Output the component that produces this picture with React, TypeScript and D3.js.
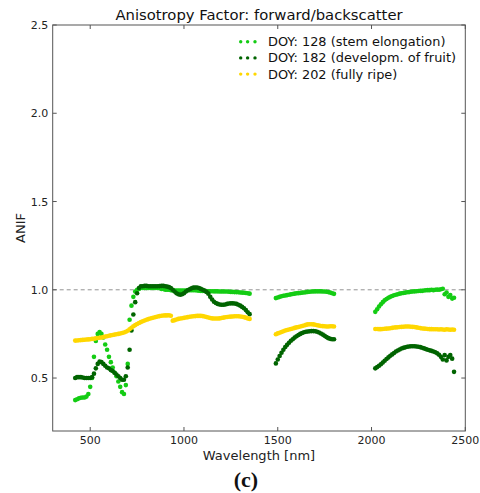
import React from 'react';
import * as d3 from 'd3';

// wavelength grids of the three measured windows (nm)
const wlVis = d3.range(420, 1351, 10);
const wlSwir1 = d3.range(1490, 1801, 10);
const wlSwir2 = d3.range(2020, 2441, 10);
const wavelengths = [...wlVis, ...wlSwir1, ...wlSwir2];

const doy128 = [
  // 420 - 760
  0.375, 0.38, 0.385, 0.388, 0.39, 0.39, 0.395, 0.41, 0.45, 0.50,
  0.62, 0.71, 0.75, 0.76, 0.75, 0.73, 0.69, 0.66, 0.62, 0.59,
  0.56, 0.53, 0.51, 0.48, 0.45, 0.42, 0.41, 0.46, 0.58, 0.83,
  0.91, 0.96, 0.99, 1.0, 1.005,
  // 770 - 1350
  1.01, 1.01, 1.01, 1.01, 1.01, 1.01, 1.01, 1.01, 1.01, 1.01,
  1.01, 1.005, 1.005, 1.0, 1.0, 1.0, 0.998, 0.996, 0.995, 0.995,
  0.995, 0.995, 0.995, 0.995, 0.996, 0.997, 0.998, 0.998, 0.998, 0.997,
  0.996, 0.995, 0.994, 0.993, 0.993, 0.992, 0.992, 0.992, 0.992, 0.991,
  0.991, 0.991, 0.99, 0.99, 0.99, 0.99, 0.99, 0.989, 0.988, 0.988,
  0.987, 0.987, 0.986, 0.985, 0.984, 0.983, 0.982, 0.98, 0.978,
  // 1490 - 1800
  0.953, 0.956, 0.96, 0.963, 0.966, 0.968, 0.97, 0.972, 0.974, 0.976,
  0.978, 0.98, 0.981, 0.982, 0.984, 0.985, 0.986, 0.988, 0.989, 0.99,
  0.99, 0.991, 0.991, 0.991, 0.991, 0.99, 0.99, 0.989, 0.987, 0.984,
  0.98, 0.977,
  // 2020 - 2440
  0.875, 0.89, 0.905, 0.918, 0.93, 0.94, 0.948, 0.955, 0.96, 0.965,
  0.969, 0.972, 0.975, 0.978, 0.98, 0.982, 0.984, 0.986, 0.987, 0.989,
  0.99, 0.991, 0.992, 0.993, 0.994, 0.994, 0.996, 0.997, 0.998, 0.998,
  1.0, 0.998, 1.0, 1.001, 1.0, 1.003, 1.006, 0.975, 0.985, 0.96,
  0.97, 0.95, 0.955,
];

const doy182 = [
  // 420 - 1350
  0.50, 0.505, 0.505, 0.505, 0.503, 0.50, 0.50, 0.50, 0.50, 0.505,
  0.525, 0.555, 0.58, 0.593, 0.59, 0.58, 0.57, 0.56, 0.555, 0.545,
  0.54, 0.53, 0.52, 0.51, 0.50, 0.49, 0.49, 0.51, 0.56, 0.66,
  0.77, 0.86, 0.93, 0.98, 1.01, 1.02, 1.02, 1.022, 1.022, 1.02,
  1.02, 1.02, 1.02, 1.02, 1.02, 1.021, 1.022, 1.022, 1.02, 1.018,
  1.015, 1.01, 1.0, 0.99, 0.98, 0.975, 0.972, 0.975, 0.98, 0.99,
  0.997, 1.003, 1.008, 1.012, 1.013, 1.013, 1.01, 1.005, 1.0, 0.995,
  0.988, 0.978, 0.96, 0.945, 0.932, 0.925, 0.92, 0.917, 0.915, 0.915,
  0.917, 0.92, 0.922, 0.923, 0.923, 0.922, 0.92, 0.915, 0.91, 0.903,
  0.895, 0.885, 0.873, 0.862,
  // 1490 - 1800
  0.583, 0.605, 0.625, 0.643, 0.66, 0.676, 0.688, 0.70, 0.711, 0.72,
  0.729, 0.737, 0.744, 0.75, 0.755, 0.759, 0.762, 0.764, 0.765, 0.766,
  0.766, 0.765, 0.762, 0.758, 0.752, 0.746, 0.739, 0.732, 0.726, 0.722,
  0.72, 0.72,
  // 2020 - 2440
  0.555, 0.562, 0.57, 0.578, 0.588, 0.598, 0.608, 0.617, 0.626, 0.634,
  0.642, 0.65, 0.656, 0.662, 0.667, 0.671, 0.674, 0.677, 0.679, 0.68,
  0.68, 0.68, 0.679, 0.677, 0.675, 0.672, 0.668, 0.664, 0.66, 0.657,
  0.654, 0.65, 0.646, 0.64, 0.632, 0.62, 0.605, 0.63, 0.6, 0.62,
  0.63, 0.61, 0.535,
];

const doy202 = [
  // 420 - 1350
  0.712, 0.713, 0.714, 0.715, 0.716, 0.717, 0.718, 0.719, 0.72, 0.722,
  0.723, 0.725, 0.727, 0.728, 0.73, 0.732, 0.735, 0.737, 0.74, 0.742,
  0.744, 0.746, 0.748, 0.75, 0.752, 0.755, 0.758, 0.762, 0.768, 0.776,
  0.785, 0.793, 0.80, 0.806, 0.812, 0.817, 0.822, 0.826, 0.83, 0.834,
  0.837, 0.84, 0.843, 0.846, 0.849, 0.851, 0.853, 0.854, 0.855, 0.855,
  0.856, 0.853, 0.825, 0.828, 0.832, 0.835, 0.837, 0.839, 0.841, 0.843,
  0.845, 0.847, 0.849, 0.85, 0.851, 0.852, 0.852, 0.852, 0.851, 0.849,
  0.846, 0.843, 0.84, 0.838, 0.837, 0.837, 0.837, 0.838, 0.84, 0.842,
  0.844, 0.846, 0.847, 0.848, 0.849, 0.85, 0.85, 0.85, 0.849, 0.847,
  0.845, 0.842, 0.838, 0.835,
  // 1490 - 1800
  0.748, 0.753, 0.757, 0.761, 0.765, 0.769, 0.772, 0.775, 0.778, 0.781,
  0.784, 0.787, 0.789, 0.792, 0.795, 0.798, 0.801, 0.804, 0.805, 0.805,
  0.804, 0.802, 0.799, 0.797, 0.795, 0.794, 0.793, 0.792, 0.792, 0.793,
  0.793, 0.792,
  // 2020 - 2440
  0.778, 0.778, 0.777, 0.777, 0.778, 0.779, 0.78, 0.781, 0.782, 0.784,
  0.786, 0.787, 0.788, 0.789, 0.79, 0.791, 0.792, 0.792, 0.792, 0.791,
  0.79, 0.789, 0.787, 0.785, 0.783, 0.781, 0.78, 0.779, 0.778, 0.777,
  0.777, 0.776, 0.776, 0.776, 0.775, 0.776, 0.775, 0.774, 0.776, 0.775,
  0.774, 0.775, 0.774,
];

const seriesNames = ['DOY: 128 (stem elongation)', 'DOY: 182 (developm. of fruit)', 'DOY: 202 (fully ripe)'];
const seriesColors = ['#14cc14', '#006400', '#ffd700'];
const seriesValues = [doy128, doy182, doy202];

const xTicks = [500, 1000, 1500, 2000, 2500];
const yTicks = [0.5, 1.0, 1.5, 2.0, 2.5];

const W = 480, H = 493;
const left = 52.7, right = 465.3, top = 25, bottom = 431;
const font = 'DejaVu Sans, sans-serif';

export default function App() {
  const x = d3.scaleLinear().domain([300, 2500]).range([left, right]);
  const y = d3.scaleLinear().domain([0.2, 2.5]).range([bottom, top]);
  const tickLen = 4;
  const frame = '#555';

  return (
    <svg width={W} height={H} style={{ position: 'absolute', left: 0, top: 0, background: '#fff' }}
      fontFamily={font}>
      <rect x={0} y={0} width={W} height={H} fill="#fff" />

      {/* reference line at ANIF = 1 */}
      <line x1={left} x2={right} y1={y(1)} y2={y(1)} stroke="#888" strokeDasharray="4,3" strokeWidth={0.9} />

      {seriesValues.map((vals, si) => (
        <g key={si} fill={seriesColors[si]}>
          {vals.map((v, i) => wavelengths[i] == null ? null : (
            <circle key={i} cx={x(wavelengths[i])} cy={y(v)} r={2.3} />
          ))}
        </g>
      ))}

      {/* frame */}
      <rect x={left} y={top} width={right - left} height={bottom - top} fill="none" stroke={frame} strokeWidth={1} />

      {xTicks.map(t => (
        <g key={'x' + t}>
          <line x1={x(t)} x2={x(t)} y1={bottom} y2={bottom - tickLen} stroke={frame} />
          <line x1={x(t)} x2={x(t)} y1={top} y2={top + tickLen} stroke={frame} />
          <text x={x(t)} y={443.5} textAnchor="middle" fontSize={11} fill="#222">{t}</text>
        </g>
      ))}
      {yTicks.map(t => (
        <g key={'y' + t}>
          <line x1={left} x2={left + tickLen} y1={y(t)} y2={y(t)} stroke={frame} />
          <line x1={right} x2={right - tickLen} y1={y(t)} y2={y(t)} stroke={frame} />
          <text x={left - 4.5} y={y(t) + 4} textAnchor="end" fontSize={11} fill="#222">{t.toFixed(1)}</text>
        </g>
      ))}

      <text x={259} y={20} textAnchor="middle" fontSize={14.8} fill="#111">
        Anisotropy Factor: forward/backscatter
      </text>
      <text x={(left + right) / 2} y={459.5} textAnchor="middle" fontSize={13} fill="#222">Wavelength [nm]</text>
      <text transform={`translate(24.5,${(top + bottom) / 2}) rotate(-90)`} textAnchor="middle" fontSize={13} fill="#222">ANIF</text>

      {/* legend */}
      {seriesNames.map((name, i) => {
        const ly = 41.7 + i * 16.2;
        return (
          <g key={name}>
            {[240.7, 247.6, 255].map((lx, k) => (
              <circle key={k} cx={lx} cy={ly} r={1.7} fill={seriesColors[i]} />
            ))}
            <text x={268} y={ly + 4.5} fontSize={12.9} fill="#111">{name}</text>
          </g>
        );
      })}

      <text x={246} y={487} textAnchor="middle" fontSize={22} fontWeight="bold"
        fontFamily="Liberation Serif, serif" fill="#111">(c)</text>
    </svg>
  );
}
